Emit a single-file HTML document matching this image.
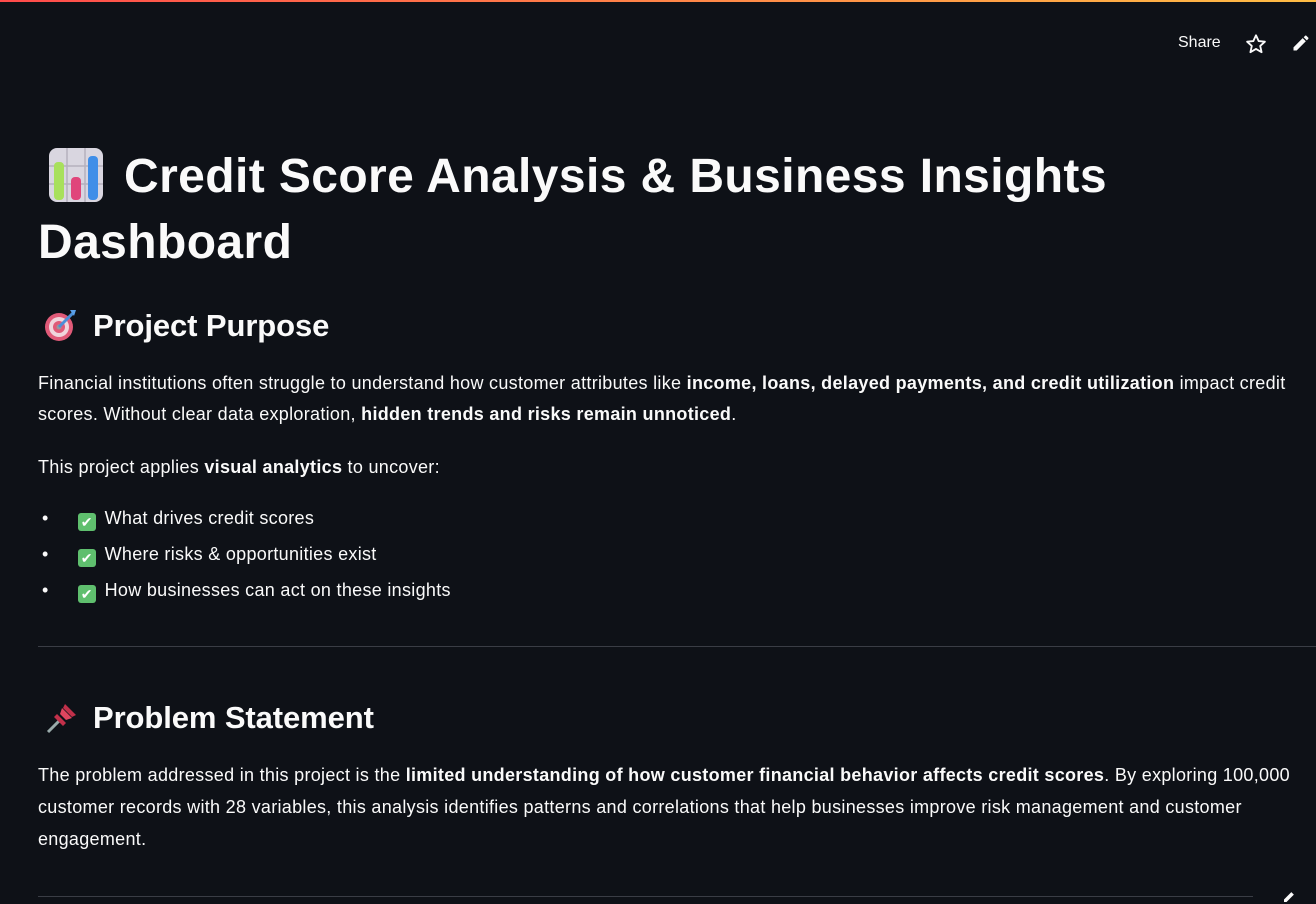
<!DOCTYPE html>
<html><head><meta charset="utf-8"><style>
body{margin:0;width:1316px;height:899px;background:#0e1117;overflow:hidden;position:relative;font-family:"Source Sans Pro","Liberation Sans",sans-serif;color:#fafafa}
.a{position:absolute;white-space:nowrap}
.t{font-weight:bold;font-size:48px;letter-spacing:0.4px;line-height:1}
.h{font-weight:bold;font-size:31px;letter-spacing:-0.1px;line-height:1}
.p{font-size:18px;letter-spacing:0.3px;line-height:1}
b{font-weight:bold}
.hr{position:absolute;height:1px;background:#3a3d45}
.ck{display:inline-block;width:18px;height:18px;background:#5fbf6e;border-radius:3px;color:#fff;text-align:center;font-size:14px;line-height:18px;margin:0 9px 0 29px;vertical-align:-3px;letter-spacing:0}
</style></head><body>
<div class="a" style="left:0;top:0;width:1316px;height:2px;background:linear-gradient(90deg,#ff4b4b,#ffbd45)"></div>
<div class="a p" style="left:1178px;top:35px;font-size:16px;letter-spacing:0">Share</div>
<svg class="a" style="left:1245px;top:33px" width="22" height="22" viewBox="0 0 24 24"><path d="M12 2.5l2.9 6.3 6.8.7-5.1 4.6 1.5 6.8L12 17.4l-6.1 3.5 1.5-6.8-5.1-4.6 6.8-.7z" fill="none" stroke="#fafafa" stroke-width="2" stroke-linejoin="round"/></svg>
<svg class="a" style="left:1291px;top:33px" width="20" height="20" viewBox="0 0 24 24"><path d="M3 17.2V21h3.8L17.8 9.9l-3.8-3.8zM20.7 7c.4-.4.4-1 0-1.4l-2.3-2.3c-.4-.4-1-.4-1.4 0l-1.8 1.8 3.8 3.8z" fill="#fafafa"/></svg>

<svg class="a" style="left:48px;top:147px" width="56" height="56" viewBox="0 0 56 56"><rect x="1" y="1" width="54" height="54" rx="8" fill="#d9d6e0"/><path d="M1 19H55M1 37H55M19 1V55M37 1V55" stroke="#b5b1bd" stroke-width="1.5"/><rect x="6" y="15" width="10" height="38" rx="4" fill="#a8e05c"/><rect x="23" y="30" width="10" height="23" rx="4" fill="#e0457b"/><rect x="40" y="9" width="10" height="44" rx="4" fill="#3f8ee8"/></svg>
<div class="a t" style="left:124px;top:153px">Credit Score Analysis &amp; Business Insights</div>
<div class="a t" style="left:38px;top:219px">Dashboard</div>

<svg class="a" style="left:44px;top:308px" width="34" height="34" viewBox="0 0 34 34"><circle cx="15" cy="19" r="14" fill="#e05a78"/><circle cx="15" cy="19" r="10" fill="#f0d5dc"/><circle cx="15" cy="19" r="6" fill="#e05a78"/><circle cx="15" cy="19" r="2.5" fill="#999"/><path d="M15 19L29 5" stroke="#4a8fd8" stroke-width="3"/><path d="M26 2l6 0-2 6z" fill="#5aa0e8"/></svg>
<div class="a h" style="left:93px;top:310px">Project Purpose</div>
<div class="a p" style="left:38px;top:374px">Financial institutions often struggle to understand how customer attributes like <b>income, loans, delayed payments, and credit utilization</b> impact credit</div>
<div class="a p" style="left:38px;top:405px">scores. Without clear data exploration, <b>hidden trends and risks remain unnoticed</b>.</div>
<div class="a p" style="left:38px;top:458px">This project applies <b>visual analytics</b> to uncover:</div>

<div class="a p" style="left:42px;top:509px">•<span class="ck">✔</span>What drives credit scores</div>
<div class="a p" style="left:42px;top:545px">•<span class="ck">✔</span>Where risks &amp; opportunities exist</div>
<div class="a p" style="left:42px;top:581px">•<span class="ck">✔</span>How businesses can act on these insights</div>

<div class="hr" style="left:38px;top:646px;width:1278px"></div>

<svg class="a" style="left:44px;top:700px" width="36" height="36" viewBox="0 0 36 36"><path d="M4 32L16 20" stroke="#9aa" stroke-width="3"/><path d="M13 14l9 9-3 3-9-9z" fill="#c2304a"/><path d="M18 8l10 10-6 2-6-6z" fill="#e0455f"/><path d="M21 4l11 11-4 2-9-9z" fill="#c2304a"/></svg>
<div class="a h" style="left:93px;top:702px">Problem Statement</div>
<div class="a p" style="left:38px;top:766px">The problem addressed in this project is the <b>limited understanding of how customer financial behavior affects credit scores</b>. By exploring 100,000</div>
<div class="a p" style="left:38px;top:798px">customer records with 28 variables, this analysis identifies patterns and correlations that help businesses improve risk management and customer</div>
<div class="a p" style="left:38px;top:830px">engagement.</div>

<div class="hr" style="left:38px;top:896px;width:1215px"></div>
<svg class="a" style="left:1282px;top:888px" width="16" height="16" viewBox="0 0 24 24"><path d="M3 17.2V21h3.8L17.8 9.9l-3.8-3.8z" fill="#fafafa"/></svg>
</body></html>
